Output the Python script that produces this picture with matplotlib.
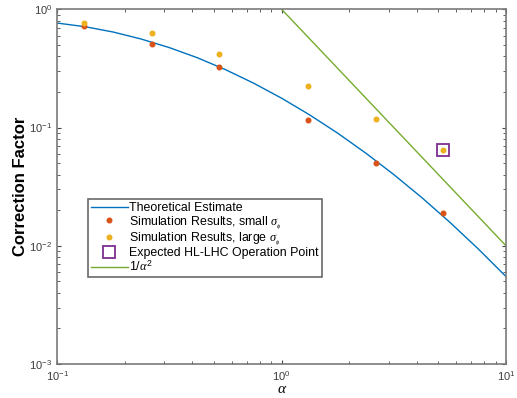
import matplotlib
matplotlib.use("Agg")
import matplotlib.pyplot as plt
from matplotlib.ticker import LogLocator, NullFormatter

plt.rcParams['font.family'] = ['Liberation Sans', 'DejaVu Sans']
plt.rcParams['mathtext.fontset'] = 'custom'
plt.rcParams['mathtext.it'] = 'Liberation Serif:italic'
plt.rcParams['mathtext.rm'] = 'Liberation Sans'

# Theoretical estimate curve
theory_alpha = [0.1, 0.1334, 0.1778, 0.2371, 0.3162, 0.4217, 0.5623, 0.7499, 1.0,
                1.3335, 1.7783, 2.3714, 3.1623, 4.2170, 5.6234, 7.4989, 10.0]
theory_val = [0.765, 0.712, 0.642, 0.560, 0.474, 0.389, 0.3086, 0.2374, 0.1770,
              0.1279, 0.0896, 0.0608, 0.0400, 0.02554, 0.01579, 0.00946, 0.00549]

# Simulation points
sim_alpha = [0.132, 0.265, 0.527, 1.31, 2.64, 5.24]
sim_small = [0.72, 0.508, 0.324, 0.116, 0.0502, 0.0188]
sim_large = [0.765, 0.634, 0.416, 0.224, 0.117, 0.0642]

# Expected operation point
op_alpha = [5.24]
op_val = [0.0642]

# 1/alpha^2 reference line
ref_alpha = [1.0, 10.0]
ref_val = [1.0, 0.01]

fig = plt.figure(figsize=(5.17, 3.98), dpi=100)
ax = fig.add_axes([0.1108, 0.0854, 0.8679, 0.8912])

c_blue = '#0072BD'
c_red = '#D95319'
c_orange = '#EDB120'
c_purple = '#7E2F8E'
c_green = '#77AC30'

ax.plot(theory_alpha, theory_val, color=c_blue, lw=1.0, label='Theoretical Estimate')
ax.plot(sim_alpha, sim_small, ls='none', marker='o', ms=3.3, color=c_red, mec=c_red,
        label=r'Simulation Results, small $\sigma_{_\phi}$')
ax.plot(sim_alpha, sim_large, ls='none', marker='o', ms=3.3, color=c_orange, mec=c_orange,
        label=r'Simulation Results, large $\sigma_{_\phi}$')
ax.plot(op_alpha, op_val, ls='none', marker='s', ms=9, mfc='none', mec=c_purple, mew=1.3,
        label='Expected HL-LHC Operation Point')
ax.plot(ref_alpha, ref_val, color=c_green, lw=1.0, label=r'$1/\alpha^2$')

ax.set_xscale('log')
ax.set_yscale('log')
ax.set_xlim(0.1, 10)
ax.set_ylim(1e-3, 1)

ax.xaxis.set_minor_locator(LogLocator(base=10, subs=range(2, 10)))
ax.yaxis.set_minor_locator(LogLocator(base=10, subs=range(2, 10)))
ax.xaxis.set_minor_formatter(NullFormatter())
ax.yaxis.set_minor_formatter(NullFormatter())

for s in ax.spines.values():
    s.set_color('#7a7a7a')
    s.set_linewidth(1.2)
ax.tick_params(which='both', direction='in', top=True, right=True, colors='#444444',
               labelsize=8, labelcolor='#3c3c3c')
ax.tick_params(which='major', length=3, width=0.8)
ax.tick_params(which='minor', length=2, width=0.6)
ax.tick_params(axis='x', pad=4)

ax.set_ylabel('Correction Factor', fontsize=12, fontweight='bold', labelpad=1)
ax.set_xlabel(r'$\alpha$', fontsize=11, labelpad=-1)

leg = ax.legend(loc='upper left', bbox_to_anchor=(0.068, 0.465), fontsize=8.9,
                frameon=True, fancybox=False, framealpha=1, edgecolor='#6a6a6a',
                borderpad=0.25, labelspacing=0.0, handlelength=3.0, handletextpad=0.1,
                borderaxespad=0)
leg.get_frame().set_linewidth(1.2)

fig.savefig('out.png', dpi=100)
